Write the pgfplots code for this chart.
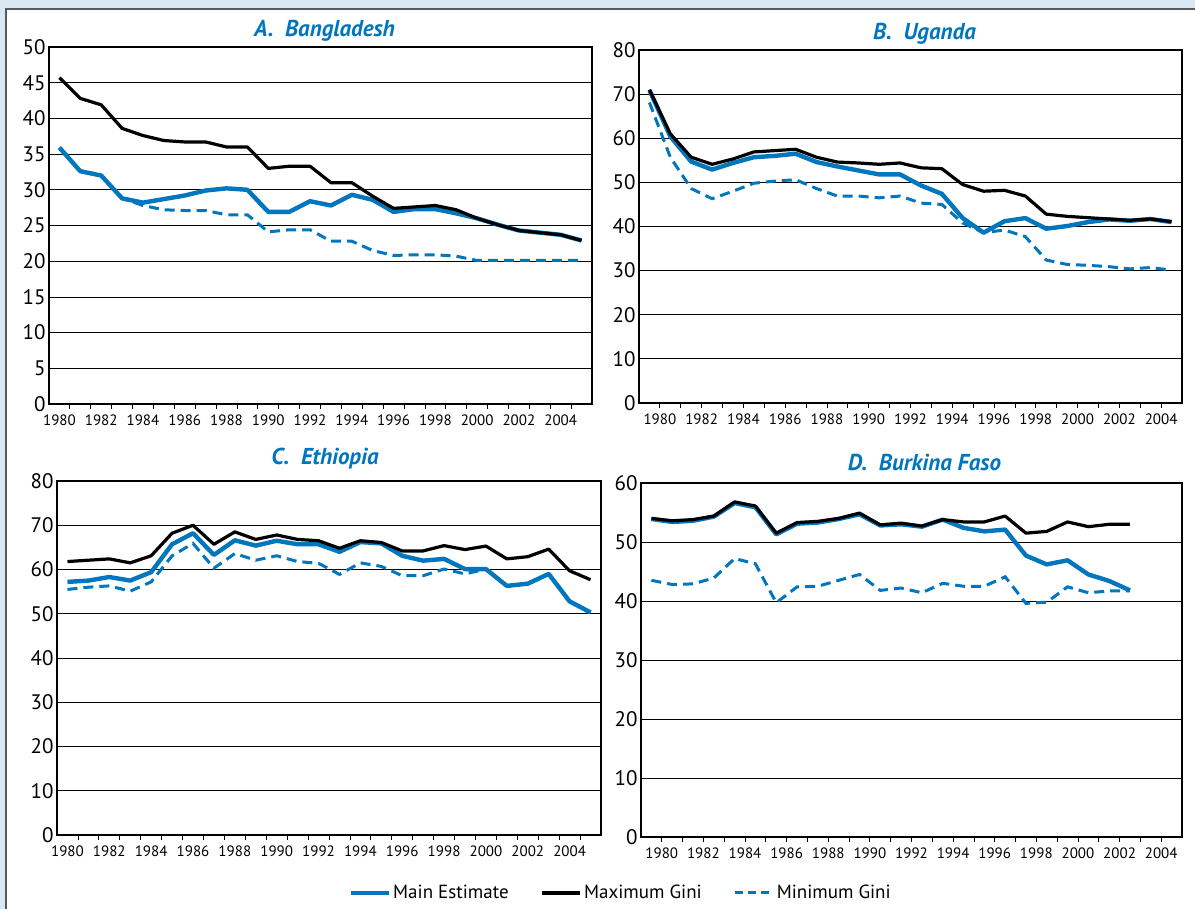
\documentclass[border=0pt]{standalone}
\usepackage{fontspec}
\setmainfont{PT Sans}
\usepackage{pgfplots}
\pgfplotsset{compat=1.18}
\usepackage{pgfplotstable}
\definecolor{wbblue}{RGB}{0,118,190}
\definecolor{framebg}{RGB}{217,232,243}

\pgfplotstableread{
k max main min
0 45.7 35.9 35.9
1 42.8 32.6 32.6
2 41.9 32.0 32.0
3 38.6 28.8 28.8
4 37.6 28.2 27.8
5 36.9 28.7 27.2
6 36.7 29.2 27.1
7 36.7 29.9 27.1
8 36.0 30.2 26.5
9 36.0 30.0 26.5
10 33.0 26.9 24.1
11 33.3 26.9 24.4
12 33.3 28.4 24.4
13 31.0 27.8 22.8
14 31.0 29.3 22.8
15 29.1 28.6 21.5
16 27.4 26.9 20.8
17 27.6 27.3 20.9
18 27.8 27.3 20.9
19 27.2 26.7 20.7
20 26.0 26.0 20.1
21 25.1 25.1 20.1
22 24.3 24.3 20.1
23 24.0 24.0 20.1
24 23.7 23.7 20.1
25 22.9 22.9 20.1
}\dataA

\pgfplotstableread{
k max main min
0 71.0 70.9 68.1
1 61.0 60.4 55.7
2 55.7 54.7 48.6
3 54.1 52.9 46.3
4 55.3 54.4 48.0
5 56.9 55.7 49.8
6 57.2 56.0 50.3
7 57.5 56.5 50.6
8 55.7 54.6 48.6
9 54.6 53.6 46.9
10 54.4 52.7 46.9
11 54.1 51.8 46.5
12 54.4 51.8 46.9
13 53.3 49.3 45.3
14 53.1 47.4 45.0
15 49.5 41.9 40.8
16 48.0 38.6 38.6
17 48.2 41.2 39.2
18 46.9 41.9 37.7
19 42.8 39.5 32.4
20 42.3 40.1 31.4
21 42.0 41.0 31.2
22 41.7 41.6 30.9
23 41.4 41.3 30.4
24 41.7 41.7 30.7
25 41.1 41.0 30.1
}\dataB

\pgfplotstableread{
k max main min
0 61.8 57.2 55.5
1 62.1 57.5 56.0
2 62.4 58.3 56.3
3 61.5 57.5 55.1
4 63.1 59.4 57.2
5 68.2 65.7 63.1
6 70.0 68.2 65.9
7 65.7 63.3 60.3
8 68.5 66.6 63.6
9 66.8 65.4 62.1
10 67.8 66.5 63.1
11 66.8 65.7 61.8
12 66.5 65.7 61.4
13 64.8 64.0 58.9
14 66.5 66.2 61.5
15 66.1 65.9 60.7
16 64.2 63.1 58.6
17 64.2 62.0 58.6
18 65.4 62.4 60.1
19 64.5 60.1 59.0
20 65.3 60.1 60.1
21 62.4 56.3 56.3
22 62.9 56.8 56.8
23 64.6 59.0 59.0
24 59.7 52.8 52.8
25 57.7 50.3 50.3
}\dataC

\pgfplotstableread{
k max main min
0 54.0 53.9 43.5
1 53.6 53.4 42.8
2 53.8 53.6 42.9
3 54.4 54.3 43.9
4 56.8 56.6 47.2
5 56.1 55.9 46.3
6 51.5 51.3 39.7
7 53.3 53.1 42.4
8 53.5 53.3 42.5
9 54.0 53.9 43.5
10 54.9 54.7 44.5
11 52.9 52.8 41.8
12 53.2 53.0 42.2
13 52.7 52.6 41.4
14 53.8 53.8 43.0
15 53.4 52.4 42.5
16 53.4 51.8 42.5
17 54.4 52.1 44.1
18 51.5 47.7 39.6
19 51.8 46.2 39.8
20 53.4 46.9 42.4
21 52.6 44.5 41.4
22 53.0 43.4 41.7
23 53.0 41.8 41.7
}\dataD

\pgfplotsset{
  panel/.style={
    scale only axis,
    xmin=-0.5, xmax=25.5, ymin=0,
    ymajorgrids, grid style={black, line width=0.8pt},
    axis line style={black, line width=1.2pt},
    major tick length=0pt,
    minor tick length=5pt,
    tick align=outside,
    xtick pos=bottom, ytick pos=left,
    minor xtick={0.5,1.5,...,24.5},
    minor tick style={black, line width=0.8pt},
    xticklabel style={font=\fontsize{15}{15}\selectfont, yshift=-7pt},
    yticklabel style={font=\fontsize{21}{21}\selectfont},
    /pgf/number format/assume math mode=true,
    xticklabels={1980,1982,1984,1986,1988,1990,1992,1994,1996,1998,2000,2002,2004},
    title style={font=\fontsize{23}{23}\selectfont\bfseries\itshape, text=wbblue, anchor=center, at={(0.5,1)}},
  },
  maxline/.style={black, line width=3.2pt, line join=round},
  mainline/.style={wbblue, line width=4.4pt, line join=round},
  minline/.style={wbblue, line width=3pt, dash pattern=on 10pt off 6pt},
}

\begin{document}
\begin{tikzpicture}
\fill[framebg] (0,0) rectangle (1195pt,-909pt);
\fill[white] (6pt,-9pt) rectangle (1195pt,-909pt);
\draw[black!65, line width=1.2pt] (6pt,-909pt) -- (6pt,-9pt) -- (1195pt,-9pt);

% A
\begin{axis}[panel, at={(49pt,-404pt)}, anchor=south west, width=543pt, height=357pt,
  ymax=50, ytick={0,5,...,50}, xtick={0,2,...,24},
  title={A.\ \ Bangladesh}, title style={yshift=10pt, xshift=4pt}]
\addplot[minline] table[x=k,y=min]{\dataA};
\addplot[mainline] table[x=k,y=main]{\dataA};
\addplot[maxline] table[x=k,y=max]{\dataA};
\end{axis}

% B
\begin{axis}[panel, at={(639pt,-403pt)}, anchor=south west, width=543pt, height=353pt,
  ymax=80, ytick={0,10,...,80}, xtick={0.5,2.5,...,24.5},
  title={B.\ \ Uganda}, title style={yshift=10pt, xshift=14pt}]
\addplot[minline] table[x=k,y=min]{\dataB};
\addplot[mainline] table[x=k,y=main]{\dataB};
\addplot[maxline] table[x=k,y=max]{\dataB};
\end{axis}

% C
\begin{axis}[panel, at={(57pt,-835pt)}, anchor=south west, width=544pt, height=354pt,
  ymax=80, ytick={0,10,...,80}, xtick={0,2,...,24},
  title={C.\ \ Ethiopia}, title style={yshift=16pt, xshift=-4pt}]
\addplot[minline] table[x=k,y=min]{\dataC};
\addplot[mainline] table[x=k,y=main]{\dataC};
\addplot[maxline] table[x=k,y=max]{\dataC};
\end{axis}

% D
\begin{axis}[panel, at={(641pt,-837pt)}, anchor=south west, width=541pt, height=354pt,
  ymax=60, ytick={0,10,...,60}, xtick={0.5,2.5,...,24.5},
  title={D.\ \ Burkina Faso}, title style={yshift=15pt, xshift=13pt},
  legend style={at={(-0.037,-0.158)}, anchor=center, draw=none, fill=none,
    legend columns=3, font=\fontsize{19}{19}\selectfont,
    /tikz/every even column/.append style={column sep=30pt}},
  legend image code/.code={\draw[#1] (0pt,0pt) -- (38pt,0pt);}]
\addlegendimage{wbblue, line width=4pt}
\addlegendentry{Main Estimate}
\addlegendimage{black, line width=3.4pt}
\addlegendentry{Maximum Gini}
\addlegendimage{wbblue, line width=3pt, dash pattern=on 8pt off 5pt}
\addlegendentry{Minimum Gini}
\addplot[minline, forget plot] table[x=k,y=min]{\dataD};
\addplot[mainline, forget plot] table[x=k,y=main]{\dataD};
\addplot[maxline, forget plot] table[x=k,y=max]{\dataD};
\end{axis}

\pgfresetboundingbox
\useasboundingbox (0,0) rectangle (1195pt,-909pt);
\end{tikzpicture}
\end{document}
